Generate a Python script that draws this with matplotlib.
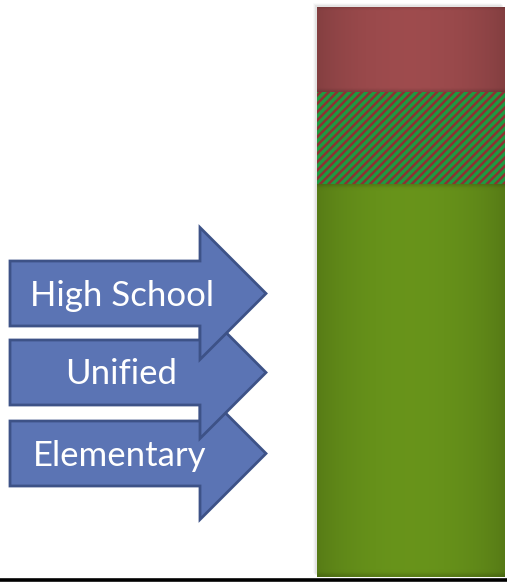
import numpy as np
import matplotlib
matplotlib.use("Agg")
import matplotlib.pyplot as plt
from matplotlib.patches import Polygon, Rectangle
from matplotlib.colors import to_rgb

# Data: share of districts by type (stacked from the bottom)
categories = ["Elementary", "Unified", "High School"]
shares = [69, 16, 15]
seg_colors = ["#66911a", "#8c3232", "#9b4a4c"]
seg_hatch = [None, "////", None]
hatch_color = "#1e9a40"

W, H = 507, 582
fig = plt.figure(figsize=(W / 100, H / 100), dpi=100)

# background axes in pixel coordinates for the arrows and the baseline
bg = fig.add_axes([0, 0, 1, 1])
bg.set_xlim(0, W)
bg.set_ylim(H, 0)
bg.axis("off")
bg.plot([0, W], [580, 580], color="black", lw=2.6, solid_capstyle="butt", zorder=5)

# stacked bar axes
bar_left, bar_right, bar_top, bar_bottom = 317, 505, 7, 577
ax = fig.add_axes([bar_left / W, (H - bar_bottom) / H,
                   (bar_right - bar_left) / W, (bar_bottom - bar_top) / H])
ax.set_xlim(0, 1)
ax.set_ylim(0, sum(shares))
ax.axis("off")

# soft shadow behind the bar
for k, a in enumerate([0.10, 0.07, 0.04]):
    bg.add_patch(Rectangle((bar_left - 2 - k, bar_top - 2 - k), bar_right - bar_left,
                           bar_bottom - bar_top, color="gray", alpha=a, lw=0, zorder=0))

bottom = 0
for val, col, hatch in zip(shares, seg_colors, seg_hatch):
    if hatch:
        plt.rcParams["hatch.linewidth"] = 2.4
        ax.bar(0, val, bottom=bottom, width=1, align="edge", color=col,
               edgecolor=hatch_color, hatch=hatch, lw=0, zorder=2)
    else:
        bars = ax.bar(0, val, bottom=bottom, width=1, align="edge", color=col, lw=0, zorder=1)
        # bevel shading: darker towards the left/right edges and segment borders
        nx, ny = 200, 120
        xs = np.linspace(0, 1, nx)
        ys = np.linspace(0, 1, ny)
        fx = 0.80 + 0.22 * np.sin(np.pi * np.clip(xs * 0.95 + 0.03, 0, 1)) ** 0.6
        px_h = val / sum(shares) * (bar_bottom - bar_top)
        edge = 4.0 / px_h
        fy = np.minimum(1, 0.85 + 0.15 * np.minimum(ys, 1 - ys) / edge)
        shade = np.outer(fy, fx)
        rgb = np.clip(np.array(to_rgb(col))[None, None, :] * shade[:, :, None], 0, 1)
        im = ax.imshow(rgb, extent=[0, 1, bottom, bottom + val], origin="lower",
                       aspect="auto", zorder=2, interpolation="bilinear")
        im.set_clip_path(bars[0])
    bottom += val
ax.set_xlim(0, 1)
ax.set_ylim(0, sum(shares))

# arrows pointing at the bar
arrow_fill = "#5b74b4"
arrow_edge = "#3d5287"
body_l, body_r, tip = 10, 200, 266
body_half, head_half = 32.5, 66
centers = {"High School": 293.5, "Unified": 372.5, "Elementary": 453.5}
text_x = {"High School": 122, "Unified": 121, "Elementary": 120}

for z, name in enumerate(categories):
    cy = centers[name]
    verts = [(body_l, cy - body_half), (body_r, cy - body_half), (body_r, cy - head_half),
             (tip, cy), (body_r, cy + head_half), (body_r, cy + body_half),
             (body_l, cy + body_half)]
    bg.add_patch(Polygon(verts, closed=True, facecolor=arrow_fill, edgecolor=arrow_edge,
                         lw=2, joinstyle="miter", zorder=10 + z))
    bg.text(text_x[name], cy + 2, name, color="white", fontsize=25, family="Lato",
            ha="center", va="center", zorder=20 + z)

fig.savefig("out.png", dpi=100)
